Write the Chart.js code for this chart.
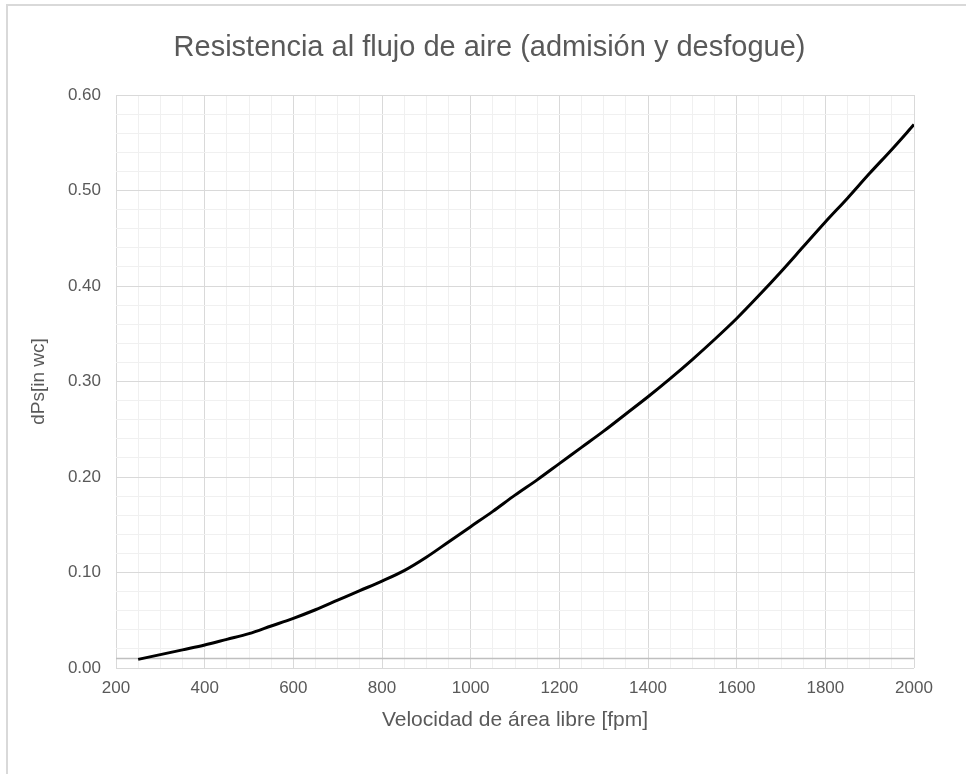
<!DOCTYPE html>
<html lang="es">
<head>
<meta charset="UTF-8">
<title>Resistencia al flujo de aire</title>
<script src="https://cdn.jsdelivr.net/npm/chart.js"></script>
<style>
  html, body { margin: 0; padding: 0; background: #fff; overflow: hidden; }
  .frame { position: absolute; left: 6px; top: 4px; width: 980px; height: 800px;
           border-left: 2px solid #d9d9d9; border-top: 2px solid #d9d9d9; }
  .wrap { position: absolute; left: 0; top: 0; width: 966px; height: 774px; }
</style>
</head>
<body>
<div class="frame"></div>
<div class="wrap"><canvas id="chart" width="966" height="774"></canvas></div>
<script>
// velocidad [fpm] vs dPs [in wc]
const velocity = [250, 300, 350, 400, 450, 500, 550, 600, 650, 700, 750, 800, 850, 900, 950,
                  1000, 1050, 1100, 1150, 1200, 1250, 1300, 1350, 1400, 1450, 1500, 1550,
                  1600, 1650, 1700, 1750, 1800, 1850, 1900, 1950, 2000];
const pressure = [0.009, 0.014, 0.019, 0.024, 0.030, 0.036, 0.044, 0.052, 0.061, 0.071, 0.081,
                  0.091, 0.102, 0.116, 0.132, 0.148, 0.164, 0.181, 0.197, 0.214, 0.231, 0.248,
                  0.266, 0.284, 0.303, 0.323, 0.344, 0.366, 0.390, 0.415, 0.441, 0.467, 0.492,
                  0.518, 0.543, 0.569];

// horizontal axis line (sits a little above zero in the original)
const axisLineX = [200, 2000];
const axisLineY = [0.01, 0.01];

const xTickLabels = [200, 400, 600, 800, 1000, 1200, 1400, 1600, 1800, 2000];
const yTickLabels = ['0.00', '0.10', '0.20', '0.30', '0.40', '0.50', '0.60'];

const textColor = '#595959';
const fontFamily = "'Liberation Sans', Arial, sans-serif";

const isXMajor = v => xTickLabels.includes(v);
const yLabelFor = v => yTickLabels.find(l => Math.abs(parseFloat(l) - v) < 1e-6);

const majorColor = '#d9d9d9';
const minorColor = '#f0f0f0';

new Chart(document.getElementById('chart'), {
    type: 'line',
    data: {
        datasets: [{
            data: velocity.map((v, i) => ({ x: v, y: pressure[i] })),
            borderColor: '#000000',
            borderWidth: 3,
            pointRadius: 0,
            cubicInterpolationMode: 'monotone',
            order: 0
        }, {
            data: axisLineX.map((v, i) => ({ x: v, y: axisLineY[i] })),
            borderColor: '#bfbfbf',
            borderWidth: 1.5,
            pointRadius: 0,
            order: 1
        }]
    },
    options: {
        responsive: false,
        animation: false,
        devicePixelRatio: 1,
        layout: { padding: { left: 13, right: 0, top: 0, bottom: 0 } },
        plugins: {
            legend: { display: false },
            tooltip: { enabled: false },
            title: {
                display: true,
                text: 'Resistencia al flujo de aire (admisión y desfogue)',
                color: textColor,
                font: { family: fontFamily, size: 29, weight: 'normal', lineHeight: 1 },
                padding: { top: 33, bottom: 33 }
            }
        },
        scales: {
            x: {
                type: 'linear',
                min: 200,
                max: 2000,
                border: { display: false },
                grid: {
                    drawTicks: false,
                    color: ctx => isXMajor(ctx.tick.value) ? majorColor : minorColor
                },
                ticks: {
                    stepSize: 50,
                    autoSkip: false,
                    maxRotation: 0,
                    padding: 10,
                    color: textColor,
                    font: { family: fontFamily, size: 17 },
                    callback: v => isXMajor(v) ? String(v) : ''
                },
                title: {
                    display: true,
                    text: 'Velocidad de área libre [fpm]',
                    color: textColor,
                    font: { family: fontFamily, size: 21 },
                    padding: { top: 0, bottom: 41 }
                },
                afterFit: s => { s.height = 106; }
            },
            y: {
                min: 0,
                max: 0.6,
                border: { display: false },
                grid: {
                    drawTicks: false,
                    color: ctx => yLabelFor(ctx.tick.value) ? majorColor : minorColor
                },
                ticks: {
                    stepSize: 0.02,
                    autoSkip: false,
                    padding: 15,
                    color: textColor,
                    font: { family: fontFamily, size: 17 },
                    callback: v => yLabelFor(v) || ''
                },
                title: {
                    display: true,
                    text: 'dPs[in wc]',
                    color: textColor,
                    font: { family: fontFamily, size: 19 },
                    padding: { top: 14, bottom: 0 }
                },
                afterFit: s => { s.width = 103; }
            },
            // empty right-hand axis, only reserves the margin right of the plot
            yRight: {
                position: 'right',
                min: 0,
                max: 0.6,
                grid: { display: false },
                border: { display: false },
                ticks: { display: false },
                afterFit: s => { s.width = 52; }
            }
        }
    }
});
</script>
</body>
</html>
